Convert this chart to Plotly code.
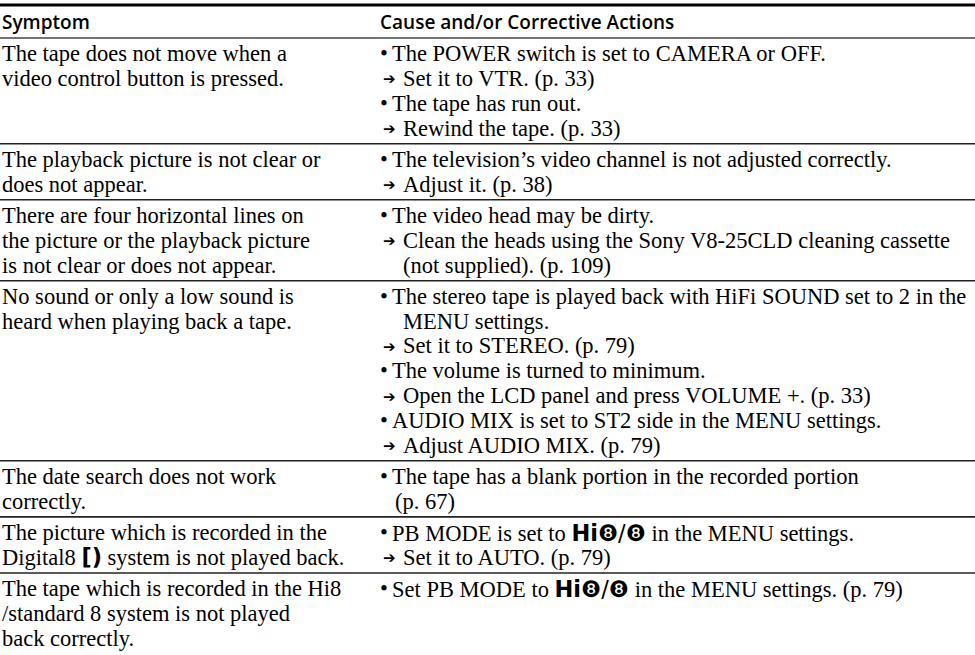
import plotly.graph_objects as go

# ---------------- data ----------------
header_symptom = "Symptom"
header_cause = "Cause and/or Corrective Actions"

HI8 = "<span style='font-family:DejaVu Sans'><b>Hi</b>❽/❽</span>"
D8 = "<span style='font-family:DejaVu Sans'><b>[)</b></span>"

symptoms = [
    ["The tape does not move when a", "video control button is pressed."],
    ["The playback picture is not clear or", "does not appear."],
    ["There are four horizontal lines on", "the picture or the playback picture",
     "is not clear or does not appear."],
    ["No sound or only a low sound is", "heard when playing back a tape."],
    ["The date search does not work", "correctly."],
    ["The picture which is recorded in the", "Digital8 " + D8 + " system is not played back."],
    ["The tape which is recorded in the Hi8", "/standard 8 system is not played",
     "back correctly."],
]

# indent codes: b = bullet, a = arrow, c = continuation of bullet, d = continuation of arrow
actions = [
    [("b", "The POWER switch is set to CAMERA or OFF."),
     ("a", "Set it to VTR. (p. 33)"),
     ("b", "The tape has run out."),
     ("a", "Rewind the tape. (p. 33)")],
    [("b", "The television’s video channel is not adjusted correctly."),
     ("a", "Adjust it. (p. 38)")],
    [("b", "The video head may be dirty."),
     ("a", "Clean the heads using the Sony V8-25CLD cleaning cassette"),
     ("d", "(not supplied). (p. 109)")],
    [("b", "The stereo tape is played back with HiFi SOUND set to 2 in the"),
     ("d", "MENU settings."),
     ("a", "Set it to STEREO. (p. 79)"),
     ("b", "The volume is turned to minimum."),
     ("a", "Open the LCD panel and press VOLUME +. (p. 33)"),
     ("b", "AUDIO MIX is set to ST2 side in the MENU settings."),
     ("a", "Adjust AUDIO MIX. (p. 79)")],
    [("b", "The tape has a blank portion in the recorded portion"),
     ("c", "(p. 67)")],
    [("b", "PB MODE is set to " + HI8 + " in the MENU settings."),
     ("a", "Set it to AUTO. (p. 79)")],
    [("b", "Set PB MODE to " + HI8 + " in the MENU settings. (p. 79)")],
]

# ---------------- layout constants ----------------
W, H = 975, 655
LINE = 24.8
PAD = 6.5
TOP_RULE = 5
HEAD_Y = 22
HEAD_RULE = 38
X_LEFT = 0
B = 378
X_BULLET = B
X_TEXT = B + 12
X_ARROW = B + 3
X_CONT = B + 15
X_ARROW_TEXT = B + 23

serif = dict(family="Liberation Serif", size=22.5, color="#000000")
sans = dict(family="Open Sans", size=19, color="#000000", weight=600)
arrowfont = dict(family="DejaVu Sans", size=15, color="#000000")

annotations = []
shapes = []


def ann(x, y, text, font):
    annotations.append(dict(x=x, y=y, xref="x", yref="y", text=text, showarrow=False,
                            xanchor="left", yanchor="middle", font=font, align="left"))


def rule(y, width, color):
    shapes.append(dict(type="line", xref="x", yref="y", x0=0, x1=W, y0=y, y1=y,
                       line=dict(width=width, color=color)))


rule(TOP_RULE, 3, "#000000")
ann(X_LEFT, HEAD_Y, header_symptom, sans)
ann(B, HEAD_Y, header_cause, sans)
rule(HEAD_RULE, 1.6, "#444444")

y0 = HEAD_RULE
for i, (sym, act) in enumerate(zip(symptoms, actions)):
    n = max(len(sym), len(act))
    first = y0 + PAD / 2 + LINE / 2
    for k, t in enumerate(sym):
        ann(X_LEFT, first + k * LINE, t, serif)
    for k, (code, t) in enumerate(act):
        y = first + k * LINE
        if code == "b":
            ann(X_BULLET, y, "•", serif)
            ann(X_TEXT, y, t, serif)
        elif code == "a":
            ann(X_ARROW, y + 1, "➔", arrowfont)
            ann(X_ARROW_TEXT, y, t, serif)
        elif code == "c":
            ann(X_CONT, y, t, serif)
        else:
            ann(X_ARROW_TEXT, y, t, serif)
    y0 = y0 + n * LINE + PAD
    if i < len(symptoms) - 1:
        rule(y0, 1.6, "#222222")

fig = go.Figure()
fig.update_layout(
    width=W, height=H,
    margin=dict(l=0, r=0, t=0, b=0),
    paper_bgcolor="white", plot_bgcolor="white",
    xaxis=dict(range=[0, W], visible=False, fixedrange=True),
    yaxis=dict(range=[H, 0], visible=False, fixedrange=True),
    annotations=annotations, shapes=shapes,
    showlegend=False,
)
fig.write_html("out.html", config={"displayModeBar": False},
               post_script="document.body.style.margin='0px';document.body.style.overflow='hidden';")
